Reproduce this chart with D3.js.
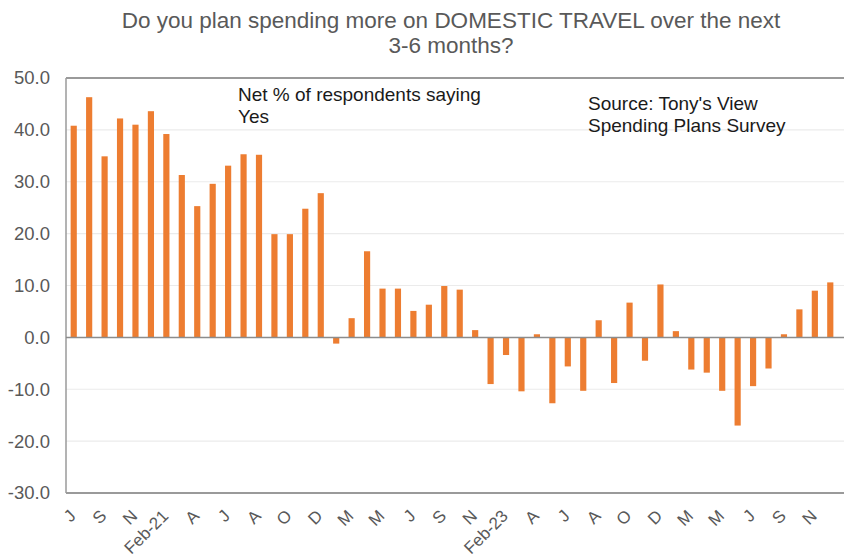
<!DOCTYPE html>
<html>
<head>
<meta charset="utf-8">
<script src="https://cdn.jsdelivr.net/npm/d3@7"></script>
<style>
  html, body { margin: 0; padding: 0; background: #ffffff; }
  svg { display: block; font-family: "Liberation Sans", Arial, sans-serif; }
</style>
</head>
<body>
<svg id="chart" width="844" height="560"></svg>
<script>
// ---- Data ----
const categories = [
  "Jul-20","Aug-20","Sep-20","Oct-20","Nov-20","Dec-20",
  "Feb-21","Mar-21","Apr-21","May-21","Jun-21","Jul-21","Aug-21","Sep-21","Oct-21","Nov-21","Dec-21",
  "Feb-22","Mar-22","Apr-22","May-22","Jun-22","Jul-22","Aug-22","Sep-22","Oct-22","Nov-22","Dec-22",
  "Feb-23","Mar-23","Apr-23","May-23","Jun-23","Jul-23","Aug-23","Sep-23","Oct-23","Nov-23","Dec-23",
  "Feb-24","Mar-24","Apr-24","May-24","Jun-24","Jul-24","Aug-24","Sep-24","Oct-24","Nov-24","Dec-24"
];
const netYes = [
  40.8, 46.3, 34.9, 42.2, 41.0, 43.6, 39.2, 31.3, 25.3, 29.6,
  33.1, 35.3, 35.2, 19.9, 19.9, 24.8, 27.8, -1.2, 3.7, 16.6,
  9.4, 9.4, 5.1, 6.3, 9.9, 9.2, 1.4, -9.0, -3.4, -10.4,
  0.6, -12.7, -5.6, -10.3, 3.3, -8.8, 6.7, -4.5, 10.2, 1.2,
  -6.2, -6.8, -10.3, -17.0, -9.4, -6.0, 0.6, 5.4, 9.0, 10.6
];
const xTickLabels = ["J","S","N","Feb-21","A","J","A","O","D","M","M","J","S","N",
                     "Feb-23","A","J","A","O","D","M","M","J","S","N"];
const yTicks = [-30, -20, -10, 0, 10, 20, 30, 40, 50];
const titleLines = ["Do you plan spending more on DOMESTIC TRAVEL over the next", "3-6 months?"];
const noteLines = ["Net % of respondents saying", "Yes"];
const sourceLines = ["Source: Tony's View", "Spending Plans Survey"];

// ---- Layout ----
const svg = d3.select("#chart");
const mLeft = 66, mRight = 838, mEdge = 844, mTop = 78, mBottom = 493;

const x = d3.scaleBand().domain(categories).range([mLeft, mRight])
  .paddingInner(0.6).paddingOuter(0.3);
const y = d3.scaleLinear().domain([-30, 50]).range([mBottom, mTop]);

svg.append("rect").attr("width", 844).attr("height", 560).attr("fill", "#ffffff");

// gridlines
svg.append("g").selectAll("line")
  .data(yTicks.filter(t => t !== -30 && t !== 0 && t !== 50))
  .join("line")
  .attr("x1", mLeft).attr("x2", mEdge)
  .attr("y1", d => y(d)).attr("y2", d => y(d))
  .attr("stroke", "#ebebeb").attr("stroke-width", 1.2);

// bars
svg.append("g").selectAll("rect")
  .data(netYes)
  .join("rect")
  .attr("x", (d, i) => x(categories[i]))
  .attr("width", x.bandwidth())
  .attr("y", d => y(Math.max(0, d)))
  .attr("height", d => Math.abs(y(d) - y(0)))
  .attr("fill", "#ED7D31");

// frame lines
const frameColor = "#9a9a9a";
svg.append("line").attr("x1", mLeft).attr("x2", mEdge).attr("y1", mTop).attr("y2", mTop)
  .attr("stroke", frameColor).attr("stroke-width", 2);
svg.append("line").attr("x1", mLeft).attr("x2", mEdge).attr("y1", mBottom).attr("y2", mBottom)
  .attr("stroke", frameColor).attr("stroke-width", 2);
svg.append("line").attr("x1", mLeft).attr("x2", mLeft).attr("y1", mTop).attr("y2", mBottom)
  .attr("stroke", frameColor).attr("stroke-width", 1.5);
svg.append("line").attr("x1", mLeft).attr("x2", mEdge).attr("y1", y(0)).attr("y2", y(0))
  .attr("stroke", "#8c8c8c").attr("stroke-width", 1.5);

// y axis
const fmt = d3.format(".1f");
const yAxis = d3.axisLeft(y).tickValues(yTicks)
  .tickFormat(d => fmt(d).replace("\u2212", "-"))
  .tickSize(0).tickPadding(16);
const gy = svg.append("g").attr("transform", `translate(${mLeft},0)`).call(yAxis);
gy.select(".domain").remove();
gy.selectAll("text").attr("fill", "#595959").style("font-size", "18.5px")
  .style("font-family", '"Liberation Sans", Arial, sans-serif');

// x axis
const tickCats = categories.filter((c, i) => i % 2 === 0);
const xAxis = d3.axisBottom(x).tickValues(tickCats)
  .tickFormat((d, i) => xTickLabels[i]).tickSize(0).tickPadding(0);
const gx = svg.append("g").attr("transform", `translate(0,${mBottom})`).call(xAxis);
gx.select(".domain").remove();
gx.selectAll("text")
  .attr("fill", "#595959").style("font-size", "17px")
  .style("font-family", '"Liberation Sans", Arial, sans-serif')
  .attr("text-anchor", "end")
  .attr("dy", null).attr("y", 0)
  .attr("transform", "translate(3,24) rotate(-45)");

// title
svg.append("text").attr("x", 451).attr("y", 28).attr("text-anchor", "middle")
  .attr("fill", "#595959").style("font-size", "22.5px")
  .selectAll("tspan").data(titleLines).join("tspan")
  .attr("x", 451).attr("dy", (d, i) => i === 0 ? 0 : 25).text(d => d);

// notes
svg.append("text").attr("x", 238).attr("y", 101)
  .attr("fill", "#1a1a1a").style("font-size", "19px")
  .selectAll("tspan").data(noteLines).join("tspan")
  .attr("x", 238).attr("dy", (d, i) => i === 0 ? 0 : 22).text(d => d);

svg.append("text").attr("x", 588).attr("y", 110)
  .attr("fill", "#1a1a1a").style("font-size", "19px")
  .selectAll("tspan").data(sourceLines).join("tspan")
  .attr("x", 588).attr("dy", (d, i) => i === 0 ? 0 : 22).text(d => d);
</script>
</body>
</html>
